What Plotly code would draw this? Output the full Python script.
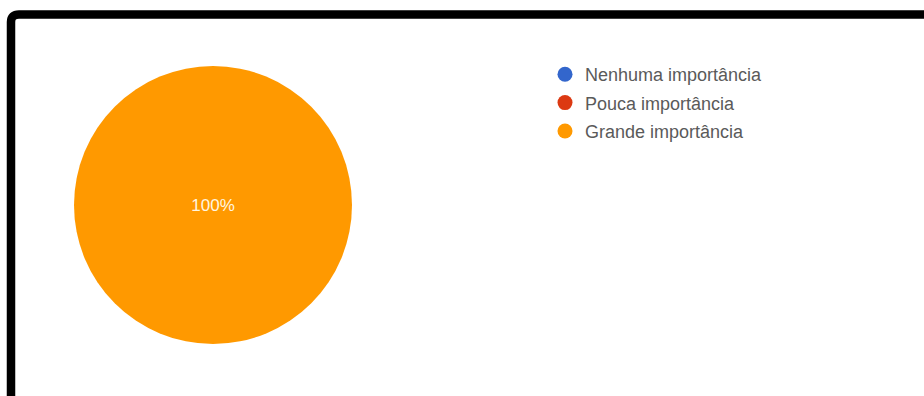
import plotly.graph_objects as go

# Survey answers: level of importance
labels = ["Nenhuma importância", "Pouca importância", "Grande importância"]
values = [0, 0, 100]
colors = ["#3366cc", "#dc3912", "#ff9900"]

W, H = 924, 396

fig = go.Figure()

fig.add_trace(go.Pie(
    labels=labels,
    values=values,
    marker=dict(colors=colors, line=dict(width=0)),
    sort=False,
    direction="clockwise",
    textinfo="percent",
    texttemplate=["" if v == 0 else "%{percent:.0%}" for v in values],
    textposition="inside",
    insidetextfont=dict(family="Liberation Sans, Arial, sans-serif", size=17, color="#fff6e0"),
    showlegend=False,
    hoverinfo="label+percent",
    domain=dict(x=[74 / W, 352 / W], y=[1 - 345 / H, 1 - 65 / H]),
))

# Legend entries with round markers, one per answer
for i, (lab, col) in enumerate(zip(labels, colors)):
    fig.add_trace(go.Scatter(
        x=[None], y=[None], mode="markers", name=lab,
        legendgroup=f"g{i}",
        marker=dict(symbol="circle", size=15, color=col),
        showlegend=True,
    ))

# Frame around the chart
fig.add_shape(
    type="path",
    xref="paper", yref="paper",
    path=(f"M {11 / W},{-0.1} L {11 / W},{1 - 22 / H} "
          f"Q {11 / W},{1 - 14.5 / H} {19 / W},{1 - 14.5 / H} L 1.1,{1 - 14.5 / H}"),
    line=dict(color="black", width=8.5),
    layer="above",
)

fig.update_layout(
    width=W, height=H,
    margin=dict(l=0, r=0, t=0, b=0),
    paper_bgcolor="white",
    plot_bgcolor="white",
    xaxis=dict(visible=False),
    yaxis=dict(visible=False),
    legend=dict(
        x=545 / W, y=1 - 56 / H, xanchor="left", yanchor="top",
        font=dict(family="Liberation Sans, Arial, sans-serif", size=18, color="#5a5a5a"),
        tracegroupgap=2,
        bgcolor="rgba(0,0,0,0)",
    ),
)

fig.write_html("out.html")
